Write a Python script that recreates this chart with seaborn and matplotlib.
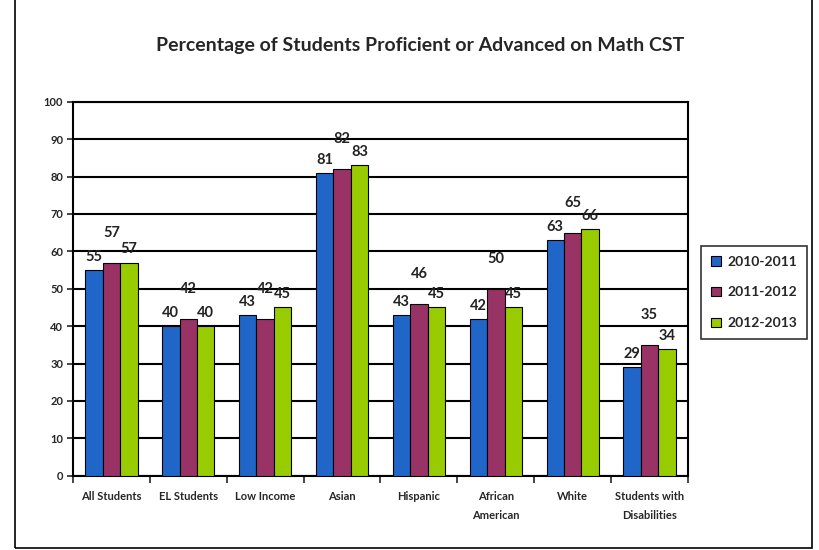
import seaborn as sns
import pandas as pd
import numpy as np
import matplotlib.pyplot as plt
from matplotlib.patches import Rectangle

# data
groups = ["All Students", "EL Students", "Low Income", "Asian", "Hispanic",
          "African\nAmerican", "White", "Students with\nDisabilities"]
years = ["2010-2011", "2011-2012", "2012-2013"]
y2010 = [55, 40, 43, 81, 43, 42, 63, 29]
y2011 = [57, 42, 42, 82, 46, 50, 65, 35]
y2012 = [57, 40, 45, 83, 45, 45, 66, 34]
colors = ["#1F66C8", "#993366", "#99CC00"]

df = pd.DataFrame({
    "group": groups * 3,
    "year": np.repeat(years, len(groups)),
    "pct": y2010 + y2011 + y2012,
})

sns.set_style("white")
plt.rcParams['font.family'] = ['Lato', 'DejaVu Sans']

fig = plt.figure(figsize=(8.2, 5.5), dpi=100)
ax = fig.add_axes([0.089, 0.135, 0.75, 0.68])

sns.barplot(data=df, x="group", y="pct", hue="year", hue_order=years,
            palette=colors, width=0.68, edgecolor="black", linewidth=0.8,
            saturation=1, ax=ax, zorder=3)

# data labels
offsets = [3.5, 8, 3.5]
for cont, off in zip(ax.containers, offsets):
    for bar in cont:
        h = bar.get_height()
        ax.text(bar.get_x() + bar.get_width() / 2, h + off, f"{h:.0f}",
                ha="center", va="center", fontsize=10.5, fontweight="bold",
                color="#222222", zorder=4)

ax.set_ylim(0, 100)
ax.set_xlim(-0.5, len(groups) - 0.5)
ax.set_yticks(range(0, 101, 10))
ax.yaxis.grid(True, color="black", linewidth=1.5, zorder=0)
ax.set_axisbelow(True)
for s in ax.spines.values():
    s.set_color("black")
    s.set_linewidth(1.5)

ax.set_xlabel("")
ax.set_ylabel("")
ax.tick_params(axis="y", length=4, width=1.2, direction="out", left=True,
               labelsize=8, pad=3)
for t in ax.get_yticklabels():
    t.set_fontweight("bold")
ax.tick_params(axis="x", which="major", length=0, labelsize=8, pad=11)
for t in ax.get_xticklabels():
    t.set_fontweight("bold")
    t.set_linespacing(1.9)
ax.set_xticks(np.arange(-0.5, len(groups), 1), minor=True)
ax.tick_params(axis="x", which="minor", length=5, width=1.2, direction="out",
               bottom=True)

ax.legend(loc="center left", bbox_to_anchor=(1.01, 0.49), frameon=True,
          fancybox=False, edgecolor="black", handlelength=0.7,
          handleheight=0.7, labelspacing=1.35, borderpad=0.7, handletextpad=0.5,
          prop={"weight": "bold", "size": 10})
ax.get_legend().get_frame().set_linewidth(1.2)

fig.text(0.512, 0.918, "Percentage of Students Proficient or Advanced on Math CST",
         ha="center", va="center", fontsize=14, fontweight="bold")

# outer chart border
fig.patches.append(Rectangle((0.018, 0.003), 0.972, 1.1, transform=fig.transFigure,
                             fill=False, edgecolor="black", linewidth=1.2))

fig.savefig("out.png", dpi=100)
